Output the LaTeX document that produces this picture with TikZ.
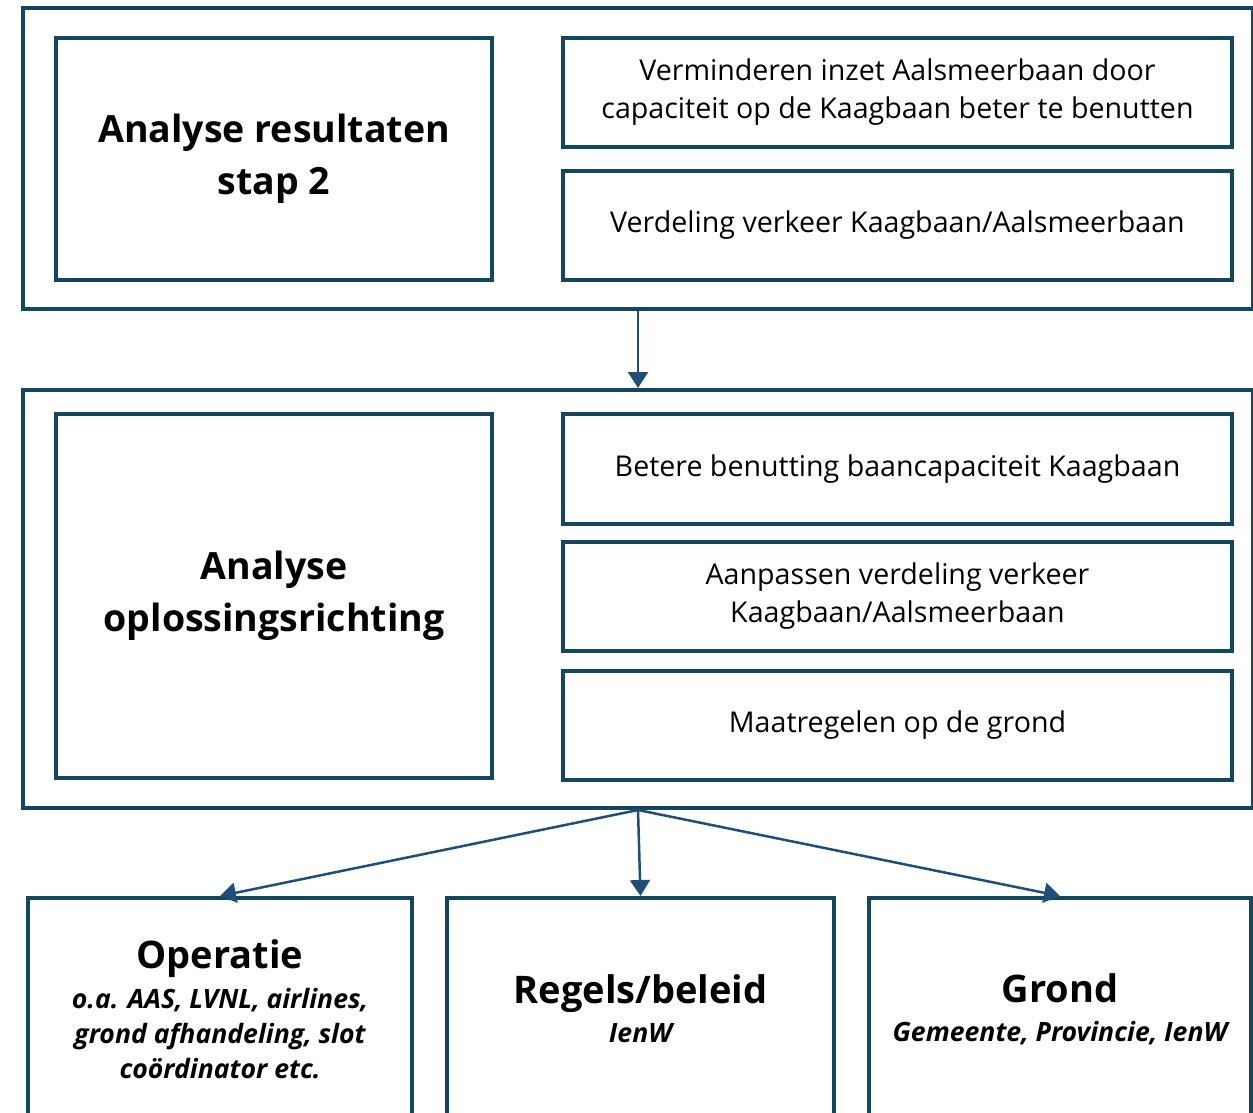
\documentclass[tikz,border=0pt]{standalone}
\usepackage{fontspec}
\setmainfont{Open Sans}
\usetikzlibrary{arrows.meta}
\definecolor{boxblue}{HTML}{13465F}
\definecolor{arrowblue}{HTML}{1F4E79}
\newcommand{\partyfont}{\fontsize{38}{43}\selectfont\bfseries\upshape}
\tikzset{
  frame/.style={draw=boxblue, line width=4pt, anchor=north west, inner sep=0pt},
  itembox/.style={frame, minimum width=669pt, minimum height=109pt, align=center,
    font=\fontsize{28.6}{38}\selectfont},
  titlebox/.style={frame, minimum width=436pt, align=center,
    font=\fontsize{37.5}{52}\selectfont\bfseries},
  partybox/.style={frame, minimum height=222pt, align=center,
    font=\fontsize{26.6}{35}\selectfont\bfseries\itshape},
  link/.style={-{Triangle[width=20pt,length=16pt]}, draw=arrowblue, line width=2.5pt}
}
\begin{document}
\begin{tikzpicture}[x=1pt, y=-1pt]
  \useasboundingbox (0,0) rectangle (1253,1112);
  \clip (0,0) rectangle (1253,1112);
  % step 2 results
  \node[frame, minimum width=1230pt, minimum height=301pt] (stapframe) at (21,6) {};
  \node[titlebox, minimum height=242pt] (stap) at (54,36) {Analyse resultaten\\stap 2};
  \node[itembox] (inzet) at (561,36) {Verminderen inzet Aalsmeerbaan door\\capaciteit op de Kaagbaan beter te benutten};
  \node[itembox] (verdeling) at (561,169) {Verdeling verkeer Kaagbaan/Aalsmeerbaan};
  % solution directions
  \node[frame, minimum width=1230pt, minimum height=418pt] (richtingframe) at (21,388) {};
  \node[titlebox, minimum height=364pt] (richting) at (54,412) {Analyse\\oplossingsrichting};
  \node[itembox, minimum height=110pt] (benutting) at (561,412) {Betere benutting baancapaciteit Kaagbaan};
  \node[itembox] (aanpassen) at (561,540) {Aanpassen verdeling verkeer\\Kaagbaan/Aalsmeerbaan};
  \node[itembox] (grondmaatr) at (561,669) {Maatregelen op de grond};
  % parties
  \node[partybox, minimum width=384pt] (operatie) at (26,896)
    {{\partyfont Operatie}\\[5pt]o.a. AAS, LVNL, airlines,\\grond afhandeling, slot\\coördinator etc.};
  \node[partybox, minimum width=387pt] (regels) at (445,896)
    {{\partyfont Regels/beleid}\\[4pt]IenW};
  \node[partybox, minimum width=382pt] (grond) at (867,896)
    {{\partyfont Grond}\\[4pt]Gemeente, Provincie, IenW};
  \draw[link] (stapframe.south) -- (richtingframe.north);
  \draw[link] (richtingframe.south) -- (operatie.north);
  \draw[link] (richtingframe.south) -- (regels.north);
  \draw[link] (richtingframe.south) -- (grond.north);
\end{tikzpicture}
\end{document}
